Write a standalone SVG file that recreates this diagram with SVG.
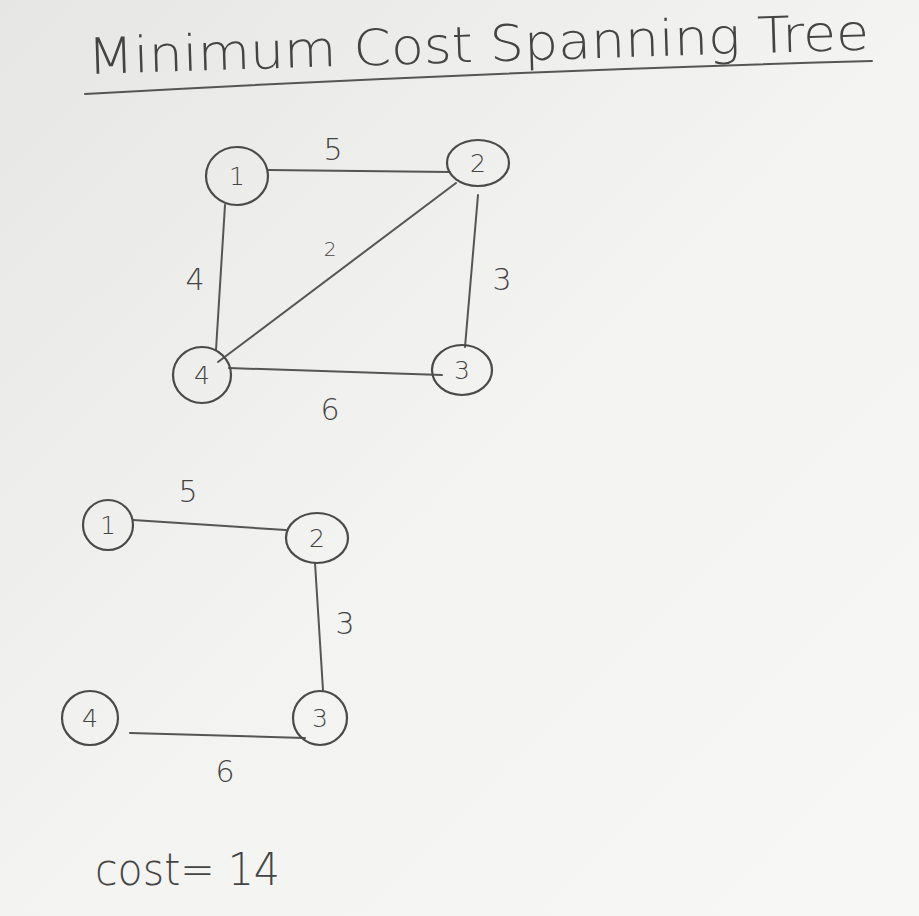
<svg xmlns="http://www.w3.org/2000/svg" width="919" height="916" viewBox="0 0 919 916">
<defs>
<linearGradient id="bg" x1="0" y1="0" x2="1" y2="1">
<stop offset="0" stop-color="#e6e6e4"/>
<stop offset="0.5" stop-color="#f3f3f1"/>
<stop offset="1" stop-color="#f7f7f5"/>
</linearGradient>
<style>
.n{fill:none;stroke:#4a4a4a;stroke-width:2.2}
.e{fill:none;stroke:#555;stroke-width:2;stroke-linecap:round}
.t{font-family:"DejaVu Sans",sans-serif;fill:#444;text-anchor:middle;font-weight:300}
.nl{font-size:25px}
.el{font-size:30px}
</style>
</defs>
<rect width="919" height="916" fill="url(#bg)"/>
<g id="title">
<text x="88" y="74" transform="rotate(-1.8 88 74)" font-family="'DejaVu Sans',sans-serif" font-size="50" fill="#444" textLength="782" lengthAdjust="spacingAndGlyphs" font-weight="300">Minimum Cost Spanning Tree</text>
<path class="e" d="M85 94 Q480 72 872 61"/>
</g>
<g id="connectors">
<line class="e" x1="268" y1="170" x2="450" y2="172"/>
<line class="e" x1="456" y1="183" x2="218" y2="362"/>
<line class="e" x1="225" y1="205" x2="216" y2="350"/>
<line class="e" x1="478" y1="195" x2="465" y2="347"/>
<line class="e" x1="229" y1="368" x2="442" y2="375"/>
<line class="e" x1="133" y1="520" x2="286" y2="530"/>
<line class="e" x1="315" y1="563" x2="323" y2="690"/>
<line class="e" x1="130" y1="733" x2="305" y2="738"/>
</g>
<g id="edge-labels">
<text class="t el" x="333" y="160">5</text>
<text class="t" font-size="20" x="330" y="256">2</text>
<text class="t el" x="195" y="290">4</text>
<text class="t el" x="502" y="290">3</text>
<text class="t el" x="330" y="420">6</text>
<text class="t el" x="188" y="502">5</text>
<text class="t el" x="345" y="634">3</text>
<text class="t el" x="225" y="782">6</text>
</g>
<g id="top-1"><ellipse class="n" cx="237" cy="176" rx="31" ry="29"/><text class="t nl" x="237" y="185">1</text></g>
<g id="top-2"><ellipse class="n" cx="478" cy="163" rx="31" ry="23"/><text class="t nl" x="478" y="172">2</text></g>
<g id="top-3"><ellipse class="n" cx="462" cy="370" rx="30" ry="25"/><text class="t nl" x="462" y="379">3</text></g>
<g id="top-4"><ellipse class="n" cx="202" cy="375" rx="29" ry="28"/><text class="t nl" x="202" y="384">4</text></g>
<g id="bot-1"><ellipse class="n" cx="108" cy="525" rx="25" ry="25"/><text class="t nl" x="108" y="534">1</text></g>
<g id="bot-2"><ellipse class="n" cx="317" cy="538" rx="31" ry="25"/><text class="t nl" x="317" y="547">2</text></g>
<g id="bot-3"><ellipse class="n" cx="320" cy="718" rx="27" ry="27"/><text class="t nl" x="320" y="727">3</text></g>
<g id="bot-4"><ellipse class="n" cx="90" cy="718" rx="28" ry="27"/><text class="t nl" x="90" y="727">4</text></g>
<g id="cost">
<text x="95" y="885" font-family="'DejaVu Sans',sans-serif" font-size="44" fill="#444" font-weight="300" textLength="185" lengthAdjust="spacingAndGlyphs">cost= 14</text>
</g>
</svg>
